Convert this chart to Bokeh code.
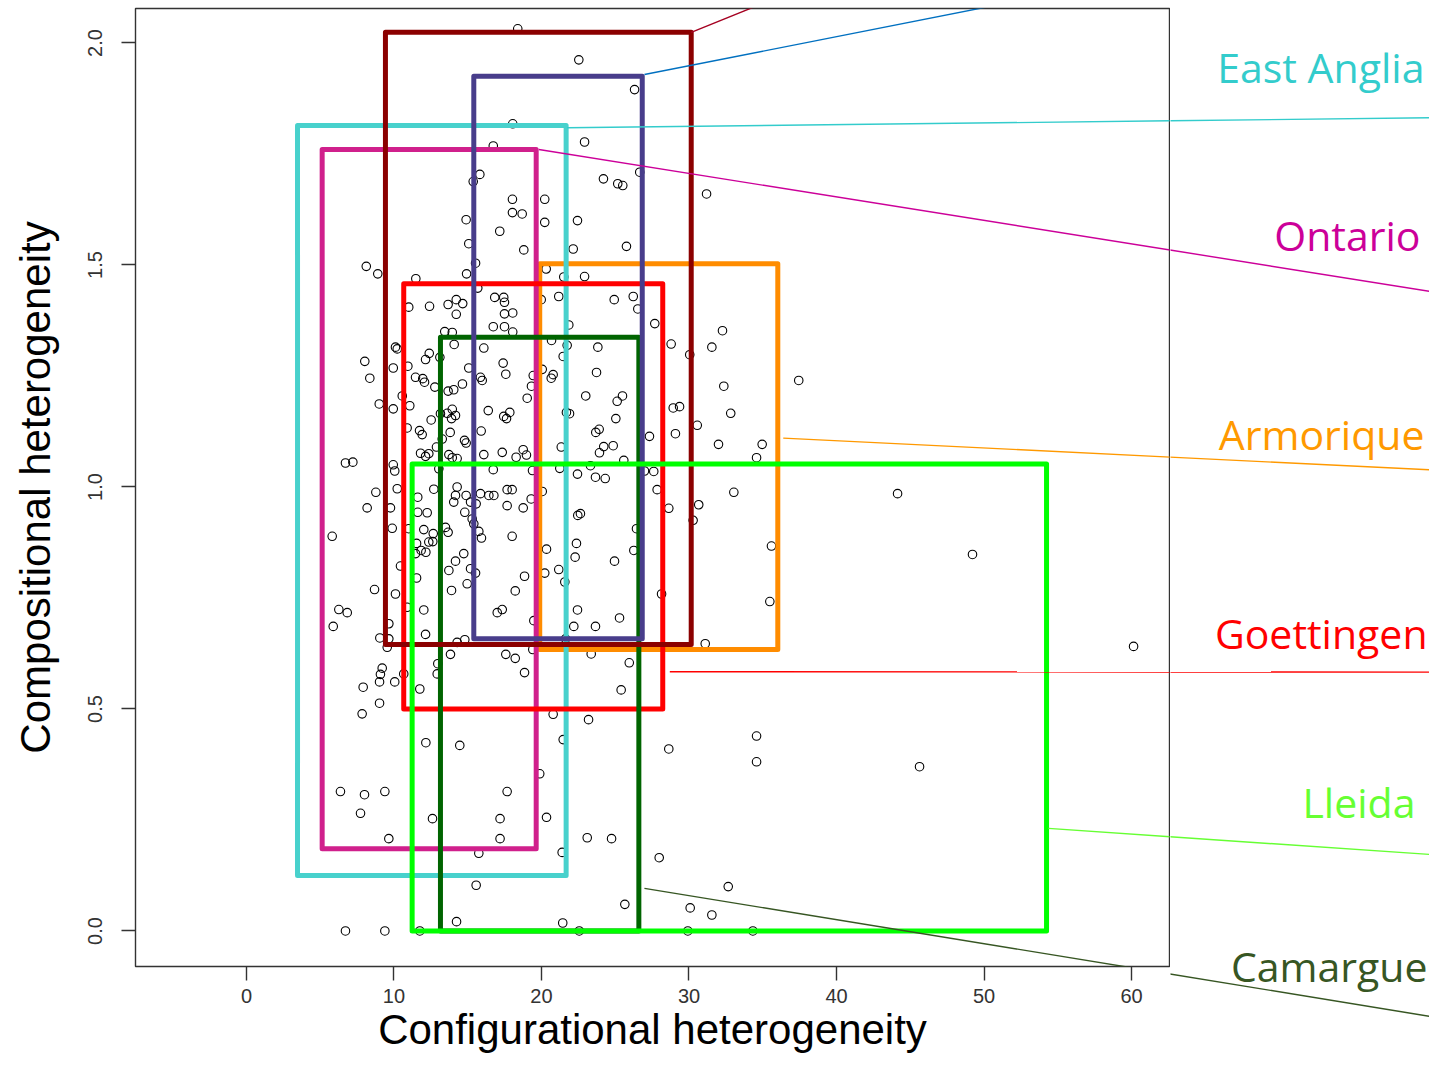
from bokeh.plotting import figure
from bokeh.models import Range1d, FixedTicker, ColumnDataSource
from bokeh.layouts import row
from bokeh.core.properties import value
from bokeh.embed import file_html
from bokeh.resources import INLINE

# ---------------- data ----------------
conf_x = [
    16.73, 15.82, 15.37, 14.89, 15.07, 17.17,
    18.39, 22.53, 26.31, 18.05, 22.92, 26.66, 24.20, 25.17, 25.51, 31.19, 18.03, 20.22, 18.03, 18.69,
    20.22, 22.44, 25.76, 22.15, 18.80,
    8.12, 8.90, 11.48, 14.92, 15.53, 15.68, 11.00, 12.41, 13.67, 14.22, 14.66, 14.22, 16.83, 16.73,
    13.44, 13.95, 14.08, 16.09, 10.10, 10.22, 12.39, 12.14, 13.11, 8.02, 9.95, 10.94, 15.07, 11.46,
    11.95, 12.07, 8.36, 12.77, 13.67, 14.05, 14.64, 15.86, 15.98, 10.56, 9.00, 9.95, 11.07, 13.95,
    13.61, 14.17, 13.15, 16.39, 12.52, 13.90, 10.89, 11.73, 11.91, 13.81, 15.91, 13.27, 14.78, 14.89,
    12.88, 12.36, 11.80, 12.14, 13.72, 13.95, 14.28, 16.09, 6.71, 7.21, 9.95, 10.05, 13.04, 16.73,
    12.70, 10.22, 8.77, 11.61, 14.28, 14.17, 14.89, 15.86, 16.43, 16.77,
    20.32, 21.51, 22.92, 17.44, 17.49, 19.98, 21.17, 24.93, 26.22, 26.53, 17.49, 18.05, 21.85, 27.68,
    17.49, 18.05, 20.68, 21.74, 23.82, 32.27, 28.79, 31.55, 30.05, 21.47, 17.40, 17.58, 20.05, 20.79,
    20.66, 19.44, 23.73, 19.32, 32.36, 37.44, 19.03, 23.00, 25.49, 25.13, 17.85, 17.44, 17.63, 21.69,
    21.90, 28.93, 29.36, 32.83, 25.04, 30.56, 23.91, 23.68, 27.32, 29.08, 17.34, 18.76, 18.28, 18.98,
    21.34, 23.93, 24.22, 24.86, 25.58, 32.00, 34.96, 34.58, 23.32, 19.39, 21.24, 22.44, 23.66, 24.32,
    26.98, 27.61, 17.67, 18.01, 20.05, 27.84, 33.04, 19.30,
    8.18, 9.76, 11.61, 12.25, 14.05, 14.80, 15.19, 15.57, 5.81, 9.88, 11.00, 12.02, 12.66, 13.49,
    13.67, 15.30, 15.41, 15.75, 15.93, 11.53, 12.36, 12.63, 11.84, 12.16, 11.46, 14.73, 14.17, 13.72,
    10.44, 15.19, 15.53, 11.53, 14.96, 8.68, 10.10, 13.90, 10.89, 12.02, 6.26, 6.83, 17.00, 5.88,
    9.65, 12.14, 9.04, 9.65, 9.54, 14.28, 14.80, 13.83, 12.97, 12.93, 9.20, 9.08, 9.02, 10.05, 10.66,
    7.91, 11.75, 9.02, 7.84, 12.16, 14.46,
    17.67, 18.76, 22.46, 22.64, 28.63, 30.66, 30.28, 18.01, 20.34, 22.37, 22.28, 26.44, 26.26, 24.95,
    35.59, 18.85, 20.22, 21.17, 21.58, 18.22, 28.14, 35.48, 17.34, 22.44, 25.29, 19.48, 22.19, 23.66,
    21.63, 31.10, 19.41, 17.58, 18.22, 23.37, 25.95, 18.85, 25.40, 20.79, 23.19, 34.58, 21.47, 28.63,
    6.37, 8.00, 9.38, 7.73, 12.61, 9.65, 17.19, 17.19, 15.75, 15.57, 14.24, 6.71, 9.38, 11.75,
    34.58, 19.88, 17.67, 20.34, 23.10, 24.75, 21.40, 27.98, 32.66, 25.65, 30.08, 31.55, 21.44, 22.56,
    29.92, 34.33,
    44.14, 49.22, 60.14, 45.63,
]
comp_y = [
    1.768, 1.704, 1.688, 1.602, 1.548, 1.576,
    2.032, 1.962, 1.895, 1.818, 1.777, 1.709, 1.694, 1.683, 1.679, 1.660, 1.648, 1.648, 1.618, 1.615,
    1.596, 1.600, 1.542, 1.536, 1.534,
    1.497, 1.480, 1.469, 1.480, 1.504, 1.448, 1.405, 1.407, 1.411, 1.422, 1.413, 1.389, 1.427, 1.361,
    1.350, 1.348, 1.321, 1.313, 1.315, 1.311, 1.301, 1.287, 1.292, 1.283, 1.268, 1.272, 1.268, 1.247,
    1.244, 1.236, 1.245, 1.225, 1.216, 1.219, 1.232, 1.247, 1.240, 1.205, 1.187, 1.176, 1.183, 1.175,
    1.166, 1.161, 1.165, 1.172, 1.151, 1.154, 1.133, 1.127, 1.118, 1.123, 1.126, 1.108, 1.105, 1.099,
    1.090, 1.075, 1.076, 1.069, 1.073, 1.066, 1.064, 1.073, 1.054, 1.056, 1.050, 1.036, 1.041, 1.039,
    0.995, 0.996, 0.988, 0.977, 1.000, 0.981, 0.981, 0.985, 0.981, 0.981,
    1.491, 1.473, 1.474, 1.427, 1.416, 1.422, 1.429, 1.422, 1.429, 1.401, 1.390, 1.392, 1.365, 1.368,
    1.361, 1.349, 1.330, 1.319, 1.315, 1.352, 1.322, 1.315, 1.298, 1.294, 1.279, 1.254, 1.265, 1.253,
    1.245, 1.251, 1.258, 1.227, 1.227, 1.240, 1.200, 1.205, 1.205, 1.193, 1.168, 1.159, 1.154, 1.168,
    1.165, 1.178, 1.181, 1.166, 1.154, 1.139, 1.130, 1.123, 1.114, 1.120, 1.078, 1.084, 1.067, 1.072,
    1.090, 1.077, 1.091, 1.093, 1.060, 1.096, 1.096, 1.066, 1.048, 1.037, 1.042, 1.029, 1.022, 1.019,
    1.036, 1.035, 0.994, 0.994, 0.990, 0.994, 0.988, 0.973,
    0.953, 0.953, 0.943, 0.942, 0.966, 0.943, 0.966, 0.962, 0.889, 0.907, 0.906, 0.904, 0.895, 0.909,
    0.898, 0.928, 0.917, 0.900, 0.885, 0.873, 0.876, 0.877, 0.857, 0.853, 0.850, 0.850, 0.833, 0.812,
    0.822, 0.816, 0.806, 0.795, 0.782, 0.769, 0.759, 0.767, 0.729, 0.723, 0.724, 0.717, 0.717, 0.686,
    0.692, 0.668, 0.660, 0.658, 0.639, 0.650, 0.656, 0.623, 0.602, 0.579, 0.592, 0.578, 0.561, 0.561,
    0.579, 0.549, 0.545, 0.513, 0.489, 0.424, 0.418,
    0.958, 0.953, 0.936, 0.940, 0.952, 0.960, 0.925, 0.889, 0.860, 0.873, 0.842, 0.906, 0.857, 0.833,
    0.867, 0.799, 0.806, 0.814, 0.786, 0.766, 0.759, 0.742, 0.724, 0.723, 0.705, 0.699, 0.686, 0.686,
    0.658, 0.647, 0.634, 0.623, 0.614, 0.624, 0.604, 0.582, 0.543, 0.488, 0.476, 0.439, 0.431, 0.410,
    0.314, 0.307, 0.314, 0.265, 0.253, 0.208, 0.253, 0.208, 0.175, 0.103, 0.021, 0.0, 0.0, 0.0,
    0.381, 0.354, 0.314, 0.256, 0.210, 0.208, 0.177, 0.165, 0.100, 0.060, 0.052, 0.036, 0.018, 0.0,
    0.0, 0.0,
    0.985, 0.848, 0.641, 0.370,
]

# region envelopes (drawing order)
box_name = ["Armorique", "East Anglia", "Ontario", "Goettingen", "Camargue", "Region 7", "Region 8", "Lleida"]
box_left = [19.88, 3.46, 5.13, 10.66, 13.15, 15.41, 9.42, 11.23]
box_right = [36.02, 21.67, 19.64, 28.22, 26.60, 26.83, 30.15, 54.24]
box_bottom = [0.634, 0.125, 0.185, 0.500, 0.000, 0.658, 0.645, 0.000]
box_top = [1.503, 1.814, 1.760, 1.458, 1.337, 1.925, 2.024, 1.052]
box_color = ["#FF8C00", "#48D1CC", "#D0208C", "#FF0000", "#006400", "#483D8B", "#8B0000", "#00FF00"]

x_ticks = [0, 10, 20, 30, 40, 50, 60]
y_ticks = [0.0, 0.5, 1.0, 1.5, 2.0]
y_tick_labels = ["0.0", "0.5", "1.0", "1.5", "2.0"]

# callout labels to the right of the plot (text, colour, right edge x, baseline y)
lab_text = ["East Anglia", "Ontario", "Armorique", "Goettingen", "Lleida", "Camargue"]
lab_color = ["#33CCCC", "#CC0099", "#FF9900", "#FF0000", "#66FF33", "#375623"]
lab_x = [79.86, 79.59, 79.86, 80.07, 79.25, 80.07]
lab_y = [1.947, 1.567, 1.120, 0.672, 0.291, -0.078]

# leader lines (start, end, colour)
lead_x0 = [30.15, 26.98, 21.74, 19.82, 36.39, 28.70, 54.37, 26.98]
lead_y0 = [2.024, 1.929, 1.809, 1.760, 1.110, 0.584, 0.231, 0.096]
lead_x1 = [37.15, 52.47, 81.29, 81.29, 81.29, 81.29, 81.29, 81.29]
lead_y1 = [2.118, 2.096, 1.832, 1.435, 1.037, 0.583, 0.170, -0.198]
lead_color = ["#A50021", "#0070C0", "#33CCCC", "#CC0099", "#FF9900", "#FF0000", "#66FF33", "#375623"]

leads = dict(x0=lead_x0, y0=lead_y0, x1=lead_x1, y1=lead_y1, color=lead_color)

# ---------------- main figure ----------------
H = 1058
p = figure(width=1170, height=H, output_backend="svg", toolbar_location=None,
           x_range=Range1d(-7.525, 62.576), y_range=Range1d(-0.0800, 2.0777),
           min_border_left=135, min_border_right=1, min_border_top=8, min_border_bottom=92)
p.grid.visible = False
p.background_fill_color = "white"
p.border_fill_color = "white"
p.outline_line_color = "#333333"
p.outline_line_width = 1.4

p.scatter(conf_x, comp_y, marker="circle", size=8.5, fill_color=None,
          line_color="black", line_width=1.1)

boxes = ColumnDataSource(dict(left=box_left, right=box_right, bottom=box_bottom,
                              top=box_top, color=box_color, name=box_name))
p.quad(left="left", right="right", bottom="bottom", top="top", source=boxes,
       fill_color=None, line_color="color", line_width=5, line_join="round")

p.segment(x0="x0", y0="y0", x1="x1", y1="y1", line_color="color", line_width=1.4,
          source=ColumnDataSource(leads))

for ax in (p.xaxis[0], p.yaxis[0]):
    ax.axis_line_color = None
    ax.major_tick_line_color = "#333333"
    ax.major_tick_line_width = 1.4
    ax.major_tick_out = 14
    ax.major_tick_in = 0
    ax.minor_tick_line_color = None
    ax.major_label_text_font = "Liberation Sans"
    ax.major_label_text_font_size = "20px"
    ax.major_label_text_color = "#333333"
    ax.axis_label_text_font = "Liberation Sans"
    ax.axis_label_text_font_style = "normal"
    ax.axis_label_text_color = "black"

p.xaxis.ticker = FixedTicker(ticks=x_ticks)
p.yaxis.ticker = FixedTicker(ticks=y_ticks)
p.yaxis.major_label_overrides = {t: s for t, s in zip(y_ticks, y_tick_labels)}
p.yaxis.major_label_orientation = "vertical"
p.xaxis.axis_label = "Configurational heterogeneity"
p.yaxis.axis_label = "Compositional heterogeneity"
p.xaxis.major_label_standoff = 8
p.xaxis.axis_label_standoff = 0
p.xaxis.axis_label_text_font_size = "42px"
p.yaxis.major_label_standoff = 19
p.yaxis.axis_label_standoff = 27
p.yaxis.axis_label_text_font_size = "42px"

# ---------------- callout area to the right (same scales continued) ----------------
side_w = 1429 - 1170
px_per_x = 14.75
px_per_y = 444.0
sx0 = (1170 - 246) / px_per_x
sx1 = sx0 + side_w / px_per_x
sy1 = (930.5 - 0) / px_per_y
sy0 = sy1 - H / px_per_y
q = figure(width=side_w, height=H, output_backend="svg", toolbar_location=None,
           x_range=Range1d(sx0, sx1), y_range=Range1d(sy0, sy1),
           x_axis_type=None, y_axis_type=None,
           min_border_left=0, min_border_right=0, min_border_top=0, min_border_bottom=0)
for fig in (p, q):
    if "frame_align" in fig.properties():
        fig.frame_align = False
q.grid.visible = False
q.outline_line_color = None
q.background_fill_color = "white"
q.border_fill_color = "white"
q.segment(x0="x0", y0="y0", x1="x1", y1="y1", line_color="color", line_width=1.4,
          source=ColumnDataSource(leads))
q.text(x=lab_x, y=lab_y, text=lab_text, text_color=lab_color,
       text_font=value("Open Sans"), text_font_size="41px",
       text_align="right", text_baseline="alphabetic")

layout = row(p, q, spacing=0)
open("out.html", "w").write(file_html(layout, INLINE))
